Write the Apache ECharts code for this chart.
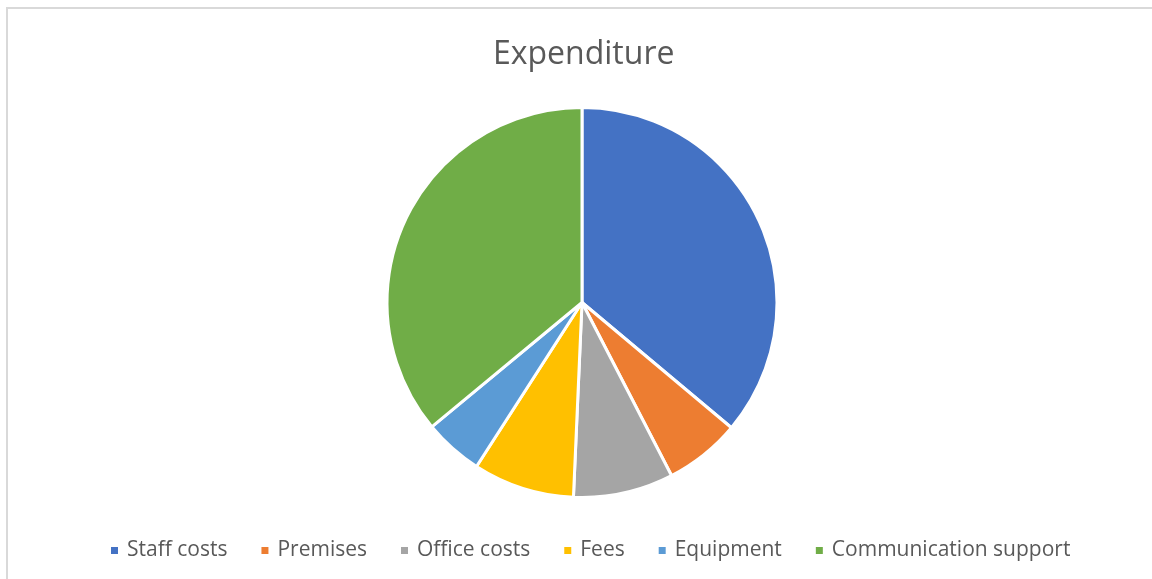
<!DOCTYPE html>
<html>
<head>
<meta charset="utf-8">
<script src="https://cdn.jsdelivr.net/npm/echarts@6/dist/echarts.min.js"></script>
<style>
  html, body { margin: 0; padding: 0; background: #fff; overflow: hidden; }
  #frame { position: absolute; left: 6px; top: 7px; width: 1200px; height: 620px; border: 2px solid #d9d9d9; box-sizing: border-box; }
  #main { position: absolute; left: 0; top: 0; width: 1152px; height: 579px; }
</style>
</head>
<body>
<div id="frame"></div>
<div id="main"></div>
<script>
// categories and values (share of expenditure, %)
const categories = ['Staff costs', 'Premises', 'Office costs', 'Fees', 'Equipment', 'Communication support']
const values = [36.1, 6.3, 8.3, 8.4, 4.9, 36.0]
const colors = ['#4472C4', '#ED7D31', '#A5A5A5', '#FFC000', '#5B9BD5', '#70AD47']

const chart = echarts.init(document.getElementById('main'), null, { renderer: 'canvas' })

chart.setOption({
  animation: false,
  color: colors,
  title: {
    text: 'Expenditure',
    left: 488,
    top: 34,
    textStyle: {
      fontFamily: 'Open Sans',
      fontSize: 32,
      fontWeight: 'normal',
      color: '#595959'
    }
  },
  legend: {
    bottom: 13,
    left: 104,
    icon: 'rect',
    itemWidth: 9,
    itemHeight: 9,
    itemGap: 32,
    textStyle: {
      fontFamily: 'Open Sans',
      fontSize: 21,
      color: '#595959',
      padding: [0, 0, 0, 3]
    },
    data: categories
  },
  series: [
    {
      type: 'pie',
      center: [582, 302.5],
      radius: 195,
      startAngle: 90,
      clockwise: true,
      label: { show: false },
      labelLine: { show: false },
      emphasis: { disabled: true },
      itemStyle: {
        borderColor: '#fff',
        borderWidth: 3
      },
      data: categories.map((name, i) => ({ name: name, value: values[i] }))
    }
  ]
})
</script>
</body>
</html>
